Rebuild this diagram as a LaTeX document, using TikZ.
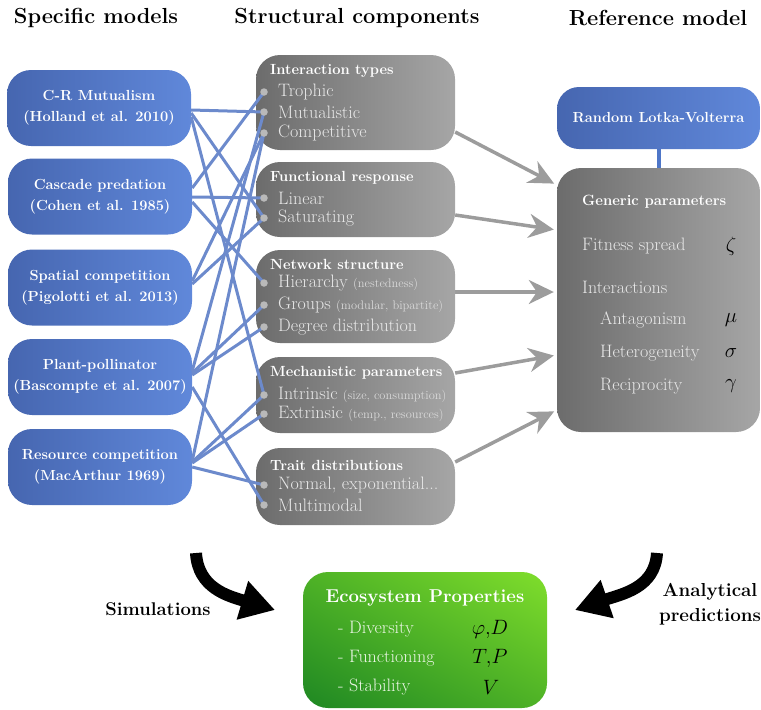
\documentclass[tikz,border=0pt]{standalone}
\usepackage{fontspec}
\usetikzlibrary{arrows.meta,backgrounds,shadings}
\definecolor{bL}{RGB}{70,102,176}
\definecolor{bR}{RGB}{96,136,218}
\definecolor{gL}{RGB}{108,108,108}
\definecolor{gR}{RGB}{166,166,166}
\definecolor{linkc}{RGB}{108,138,204}
\definecolor{arrc}{RGB}{156,156,156}
\definecolor{dotc}{RGB}{185,185,185}
\definecolor{txtc}{RGB}{232,232,232}
\definecolor{smc}{RGB}{218,218,218}
\definecolor{grD}{RGB}{30,135,35}
\definecolor{grM}{RGB}{78,178,38}
\definecolor{grL}{RGB}{128,222,44}
\definecolor{grT}{RGB}{236,246,230}
\definecolor{vline}{RGB}{78,118,200}
\newcommand\smtxt[1]{{\fontsize{12.4}{14}\selectfont\color{smc}#1}}
\begin{document}
\begin{tikzpicture}[x=1pt,y=-1pt,
 bluebox/.style={rounded corners=24pt, left color=bL, right color=bR, text=white,
   font=\bfseries\fontsize{14.6}{21}\selectfont, align=center,
   minimum width=184pt, minimum height=76pt, inner sep=0pt},
 graybox/.style={rounded corners=24pt, left color=gL, right color=gR,
   minimum width=199pt, inner sep=0pt},
 ecobox/.style={rounded corners=25pt, lower left=grD, upper right=grL,
   upper left=grM, lower right=grM, minimum width=244pt, minimum height=136pt, inner sep=0pt},
 linkl/.style={draw=linkc, line width=3pt},
 bul/.style={circle, fill=dotc, inner sep=0pt, minimum size=7.5pt},
 ttl/.style={anchor=west, text=white, font=\bfseries\fontsize{14.7}{16}\selectfont, inner sep=0pt},
 itm/.style={anchor=west, text=txtc, font=\fontsize{18}{20}\selectfont, inner sep=0pt},
 etxt/.style={anchor=west, text=grT, font=\fontsize{18}{20}\selectfont, inner sep=0pt},
 garrow/.style={draw=arrc, line width=3.5pt, -{Stealth[length=25pt,width=24pt]}, shorten >=3pt},
 hdr/.style={font=\bfseries\fontsize{21.8}{24}\selectfont, inner sep=0pt},
 sym/.style={font=\fontsize{20}{22}\selectfont, inner sep=0pt, text=black},
 esym/.style={font=\fontsize{20}{22}\selectfont, inner sep=0pt, text=black},
 bigarrow/.style={line width=12pt, -{Triangle[length=34pt,width=38pt]}},
]
\useasboundingbox (0,0) rectangle (761,710);

% headers
\node[hdr] (h1) at (96,18) {Specific models};
\node[hdr] (h2) at (357,18) {Structural components};
\node[hdr] (h3) at (658,18) {Reference model};

% specific models
\node[bluebox] (m1) at (99,108) {C-R Mutualism\\(Holland et al. 2010)};
\node[bluebox] (m2) at (100,196.5) {Cascade predation\\(Cohen et al. 1985)};
\node[bluebox] (m3) at (100,287.5) {Spatial competition\\(Pigolotti et al. 2013)};
\node[bluebox] (m4) at (100,377) {Plant-pollinator\\(Bascompte et al. 2007)};
\node[bluebox] (m5) at (100,467) {Resource competition\\(MacArthur 1969)};

% structural components
\node[graybox, minimum height=95pt] (it) at (355.5,102.5) {};
\node[graybox, minimum height=75pt] (fr) at (355.5,199.5) {};
\node[graybox, minimum height=93pt] (ns) at (355.5,296.5) {};
\node[graybox, minimum height=76pt] (mp) at (355.5,395) {};
\node[graybox, minimum height=77pt] (td) at (355.5,486.5) {};

% reference model
\node[bluebox, minimum width=203pt, minimum height=62pt, rounded corners=22pt] (rlv) at (658.5,118) {Random Lotka-Volterra};
\node[graybox, minimum width=203pt, minimum height=264pt] (gp) at (658.5,300) {};
\begin{scope}[on background layer]
\draw[draw=vline, line width=4pt] (rlv.south) -- (gp.north);
\draw[garrow] ([yshift=-29.5pt]it.east) -- ([yshift=115pt]gp.west);
\draw[garrow] ([yshift=-15.5pt]fr.east) -- ([yshift=70pt]gp.west);
\draw[garrow] ([yshift=4.5pt]ns.east) -- ([yshift=8pt]gp.west);
\draw[garrow] ([yshift=22pt]mp.east) -- ([yshift=-55pt]gp.west);
\draw[garrow] ([yshift=24.5pt]td.east) -- ([yshift=-110pt]gp.west);
\end{scope}

% bullet positions
\coordinate (it1) at (264,92);
\coordinate (it2) at (264,112);
\coordinate (it3) at (264,133);
\coordinate (fr1) at (264,198);
\coordinate (fr2) at (264,218);
\coordinate (ns1) at (264,283);
\coordinate (ns2) at (264,305);
\coordinate (ns3) at (264,327);
\coordinate (mp1) at (264,395);
\coordinate (mp2) at (264,414);
\coordinate (td1) at (264,485);
\coordinate (td2) at (264,505);

% links
\draw[linkl] ([yshift=-2pt]m1.east) -- (it2);
\draw[linkl] ([yshift=-5pt]m1.east) -- (fr2);
\draw[linkl] ([yshift=-9pt]m1.east) -- (mp1);
\draw[linkl] ([yshift=8.5pt]m2.east) -- (it1);
\draw[linkl] ([yshift=-0.5pt]m2.east) -- (fr1);
\draw[linkl] ([yshift=-5.5pt]m2.east) -- (ns1);
\draw[linkl] ([yshift=6.5pt]m3.east) -- (it3);
\draw[linkl] ([yshift=3.5pt]m3.east) -- (fr2);
\draw[linkl] ([yshift=6pt]m4.east) -- (it2);
\draw[linkl] ([yshift=4pt]m4.east) -- (ns2);
\draw[linkl] ([yshift=2pt]m4.east) -- (ns3);
\draw[linkl] ([yshift=-10pt]m4.east) -- (td2);
\draw[linkl] ([yshift=6pt]m5.east) -- (it3);
\draw[linkl] ([yshift=5pt]m5.east) -- (mp1);
\draw[linkl] ([yshift=4pt]m5.east) -- (mp2);
\draw[linkl] (m5.east) -- (td1);

% bullet dots
\foreach \c in {it1,it2,it3,fr1,fr2,ns1,ns2,ns3,mp1,mp2,td1,td2}
  \node[bul] (d-\c) at (\c) {};

% structural component texts
\node[ttl] (t-it) at (270,71) {Interaction types};
\node[itm] (x-it1) at (278,92) {Trophic};
\node[itm] (x-it2) at (278,112) {Mutualistic};
\node[itm] (x-it3) at (278,133) {Competitive};
\node[ttl] (t-fr) at (270,178) {Functional response};
\node[itm] (x-fr1) at (278,198) {Linear};
\node[itm] (x-fr2) at (278,218) {Saturating};
\node[ttl] (t-ns) at (270,264) {Network structure};
\node[itm] (x-ns1) at (278,283) {Hierarchy \smtxt{(nestedness)}};
\node[itm] (x-ns2) at (278,305) {Groups \smtxt{(modular, bipartite)}};
\node[itm] (x-ns3) at (278,327) {Degree distribution};
\node[ttl] (t-mp) at (270,373) {Mechanistic parameters};
\node[itm] (x-mp1) at (278,395) {Intrinsic \smtxt{(size, consumption)}};
\node[itm] (x-mp2) at (278,414) {Extrinsic \smtxt{(temp., resources)}};
\node[ttl] (t-td) at (270,465) {Trait distributions};
\node[itm] (x-td1) at (278,485) {Normal, exponential...};
\node[itm] (x-td2) at (278,505) {Multimodal};

% generic parameters texts
\node[anchor=west, text=white, font=\bfseries\fontsize{14.9}{17}\selectfont, inner sep=0pt] (g0) at (582,202) {Generic parameters};
\node[itm] (g1) at (582,246) {Fitness spread};
\node[sym] (s1) at (731,246) {$\zeta$};
\node[itm] (g2) at (582,287) {Interactions};
\node[itm] (g3) at (600,320) {Antagonism};
\node[sym] (s3) at (731,320) {$\mu$};
\node[itm] (g4) at (600,353) {Heterogeneity};
\node[sym] (s4) at (731,353) {$\sigma$};
\node[itm] (g5) at (600,386) {Reciprocity};
\node[sym] (s5) at (731,386) {$\gamma$};

% ecosystem properties
\node[ecobox] (eco) at (425,640) {};
\node[font=\bfseries\fontsize{18.6}{20}\selectfont, text=white, inner sep=0pt] (e0) at (425,598) {Ecosystem Properties};
\node[etxt] (e1) at (338,629) {- Diversity};
\node[etxt] (e2) at (338,658) {- Functioning};
\node[etxt] (e3) at (338,687) {- Stability};
\node[esym] (v1) at (490,629) {$\varphi,\!D$};
\node[esym] (v2) at (490,658) {$T,\!P$};
\node[esym] (v3) at (491,687) {$V$};

% big arrows and labels
\coordinate (sa) at (196,553);
\coordinate (sb) at (275,610);
\draw[bigarrow] (sa) .. controls (198,588) and (228,596) .. (sb);
\coordinate (ra) at (657,553);
\coordinate (rb) at (575,610);
\draw[bigarrow] (ra) .. controls (655,588) and (622,594) .. (rb);
\node[font=\bfseries\fontsize{18.4}{20}\selectfont, inner sep=0pt] (sim) at (158,609) {Simulations};
\node[font=\bfseries\fontsize{18.8}{25}\selectfont, align=center, inner sep=0pt] (ana) at (710,604) {Analytical\\predictions};
\end{tikzpicture}
\end{document}
